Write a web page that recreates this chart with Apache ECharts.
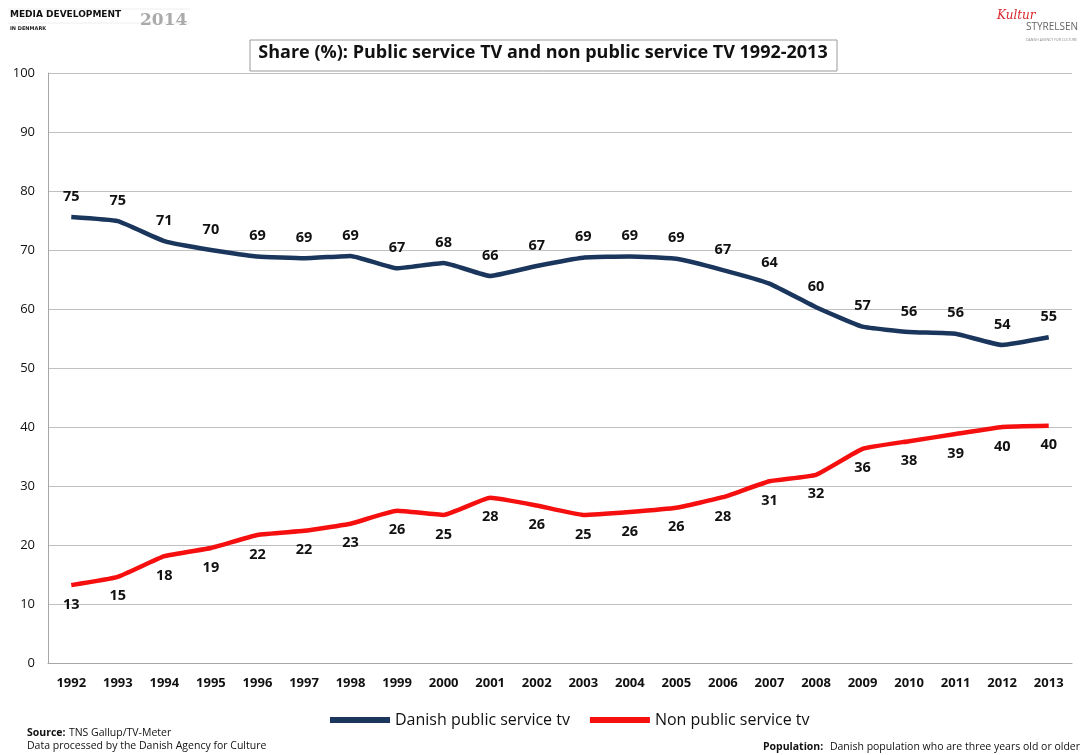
<!DOCTYPE html>
<html>
<head>
<meta charset="utf-8">
<script src="https://cdn.jsdelivr.net/npm/echarts@6/dist/echarts.min.js"></script>
<style>
html,body{margin:0;padding:0;background:#fff;}
#chart{width:1086px;height:755px;}
</style>
</head>
<body>
<div id="chart"></div>
<script>
const years = ['1992','1993','1994','1995','1996','1997','1998','1999','2000','2001','2002','2003','2004','2005','2006','2007','2008','2009','2010','2011','2012','2013'];
const publicTv = [75.6,74.9,71.5,70.0,68.9,68.6,69.0,66.9,67.8,65.6,67.3,68.7,68.9,68.5,66.6,64.3,60.3,57.0,56.1,55.8,53.9,55.2];
const publicTvLabels = [75,75,71,70,69,69,69,67,68,66,67,69,69,69,67,64,60,57,56,56,54,55];
const nonPublicTv = [13.2,14.6,18.1,19.5,21.7,22.4,23.6,25.8,25.1,28.0,26.7,25.1,25.6,26.3,28.1,30.8,31.9,36.3,37.6,38.8,40.0,40.2];
const nonPublicTvLabels = [13,15,18,19,22,22,23,26,25,28,26,25,26,26,28,31,32,36,38,39,40,40];
const yTicks = [0,10,20,30,40,50,60,70,80,90,100];

const chart = echarts.init(document.getElementById('chart'), null, {renderer:'canvas'});
const font = '"Open Sans", "Liberation Sans", sans-serif';
chart.setOption({
  backgroundColor:'#fff',
  animation:false,
  grid:{left:48,right:14,top:73,bottom:92},
  legend:{
    top:707, left:325, itemWidth:60, itemHeight:6, itemGap:20,
    icon:'rect',
    textStyle:{fontFamily:font,fontSize:16,color:'#111'},
    data:['Danish public service tv','Non public service tv']
  },
  xAxis:{
    type:'category', data:years, boundaryGap:true,
    axisLine:{lineStyle:{color:'#a6a6a6',width:1}},
    axisTick:{show:false},
    axisLabel:{fontFamily:font,fontWeight:'bold',fontSize:13,color:'#111',margin:14,interval:0}
  },
  yAxis:{
    type:'value', min:yTicks[0], max:yTicks[yTicks.length-1], interval:10,
    axisLine:{show:true,lineStyle:{color:'#a6a6a6',width:1}},
    axisTick:{show:false},
    splitLine:{lineStyle:{color:'#c0c0c0',width:1}},
    axisLabel:{fontFamily:font,fontSize:13,color:'#111',margin:13}
  },
  series:[
    {
      name:'Danish public service tv', type:'line', data:publicTv, smooth:0.12,
      symbol:'circle', symbolSize:0, showSymbol:true, lineStyle:{color:'#1b365d',width:4.5}, itemStyle:{color:'#1b365d'},
      label:{show:true,position:'top',distance:13,fontFamily:font,fontWeight:'bold',fontSize:14.5,color:'#111',
        formatter:p=>publicTvLabels[p.dataIndex]}
    },
    {
      name:'Non public service tv', type:'line', data:nonPublicTv, smooth:0.12,
      symbol:'circle', symbolSize:0, showSymbol:true, lineStyle:{color:'#f50f0f',width:4.5}, itemStyle:{color:'#f50f0f'},
      label:{show:true,position:'bottom',distance:12,fontFamily:font,fontWeight:'bold',fontSize:14.5,color:'#111',
        formatter:p=>nonPublicTvLabels[p.dataIndex]}
    }
  ],
  graphic:[
    {type:'rect',shape:{x:250,y:40,width:587,height:31},style:{fill:'#fff',stroke:'#9a9a9a',lineWidth:1}},
    {type:'text',left:'center',top:44,style:{text:'Share (%): Public service TV and non public service TV 1992-2013',fontFamily:font,fontWeight:'bold',fontSize:18,fill:'#111'}},
    {type:'line',shape:{x1:8,y1:9,x2:190,y2:9},style:{stroke:'#eeeeee',lineWidth:1}},
    {type:'line',shape:{x1:8,y1:23,x2:190,y2:23},style:{stroke:'#eeeeee',lineWidth:1}},
    {type:'text',left:10,top:10,style:{text:'MEDIA DEVELOPMENT',fontFamily:'"DejaVu Sans", sans-serif',fontWeight:'bold',fontSize:9,fill:'#111'}},
    {type:'text',left:10,top:26,style:{text:'IN DENMARK',fontFamily:'"DejaVu Sans", sans-serif',fontWeight:'bold',fontSize:5,fill:'#222'}},
    {type:'text',left:140,top:12,style:{text:'2014',fontFamily:'"DejaVu Serif", serif',fontWeight:'bold',fontSize:17,fill:'#aaaaaa'}},
    {type:'text',left:997,top:10,style:{text:'Kultur',fontFamily:'"DejaVu Serif", serif',fontStyle:'italic',fontSize:12,fill:'#d9262c'}},
    {type:'text',left:1026,top:22,style:{text:'STYRELSEN',fontFamily:font,fontSize:10,fill:'#666'}},
    {type:'text',left:1026,top:38,style:{text:'DANISH AGENCY FOR CULTURE',fontFamily:font,fontSize:3.5,fill:'#888'}},
    {type:'text',left:27,top:727,style:{rich:{b:{fontWeight:'bold',fontFamily:font,fontSize:10.5,fill:'#111'},n:{fontFamily:font,fontSize:10.5,fill:'#111'}},text:'{b|Source:} {n|TNS Gallup/TV-Meter}'}},
    {type:'text',left:27,top:741,style:{text:'Data processed by the Danish Agency for Culture',fontFamily:font,fontSize:10.5,fill:'#111'}},
    {type:'text',right:6,top:741,style:{rich:{b:{fontWeight:'bold',fontFamily:font,fontSize:10.5,fill:'#111'},n:{fontFamily:font,fontSize:10.5,fill:'#111'}},text:'{b|Population:}  {n|Danish population who are three years old or older}'}}
  ]
});
</script>
</body>
</html>
